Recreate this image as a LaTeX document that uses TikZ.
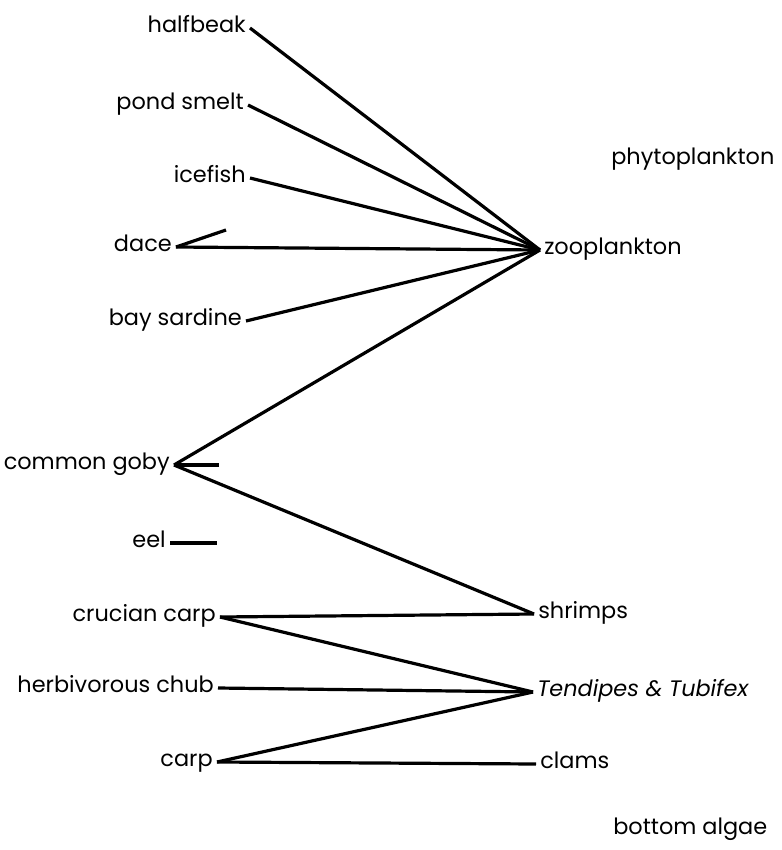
\documentclass[tikz,border=0pt]{standalone}
\usepackage{fontspec}
\setmainfont{Poppins}

\begin{document}
\begin{tikzpicture}[x=0.75pt, y=-0.75pt,
    every node/.style={inner sep=3pt, text height=1.3ex, text depth=0pt, font=\fontsize{16.8}{19}\selectfont},
    link/.style={line width=2.4pt}]
    \useasboundingbox (0,0) rectangle (782,850);
    % fishes
    \node[anchor=east] (halfbeak) at (250,28) {halfbeak};
    \node[anchor=east] (smelt) at (248,105) {pond smelt};
    \node[anchor=east] (icefish) at (250,178) {icefish};
    \node[anchor=east] (dace) at (176,247) {dace};
    \node[anchor=east] (sardine) at (246,321) {bay sardine};
    \node[anchor=east] (goby) at (174,465) {common goby};
    \node[anchor=east] (eel) at (170,543) {eel};
    \node[anchor=east] (crucian) at (220,617) {crucian carp};
    \node[anchor=east] (chub) at (218,688) {herbivorous chub};
    \node[anchor=east] (carp) at (217,762) {carp};
    % food
    \node[anchor=west] (phyto) at (607,160) {phytoplankton};
    \node[anchor=west] (zoo) at (540,250) {zooplankton};
    \node[anchor=west] (shrimps) at (534,614) {shrimps};
    \node[anchor=west] (worms) at (533,692) {\itshape Tendipes \& Tubifex};
    \node[anchor=west] (clams) at (536,764) {clams};
    \node[anchor=west] (algae) at (609,830) {bottom algae};
    % loose ends
    \coordinate (daceend) at (226,230);
    \coordinate (gobyend) at (219,465);
    \coordinate (eelend) at (217,543);

    \foreach \f in {halfbeak, smelt, icefish, dace, sardine, goby}
        \draw[link] (\f.east) -- (zoo.west);
    \draw[link] (goby.east) -- (shrimps.west);
    \draw[link] (crucian.east) -- (shrimps.west);
    \foreach \f in {crucian, chub, carp}
        \draw[link] (\f.east) -- (worms.west);
    \draw[link] (carp.east) -- (clams.west);
    \draw[link] (dace.east) -- (daceend);
    \draw[link] (goby.east) -- (gobyend);
    \draw[link] (eel.east) -- (eelend);
\end{tikzpicture}
\end{document}
